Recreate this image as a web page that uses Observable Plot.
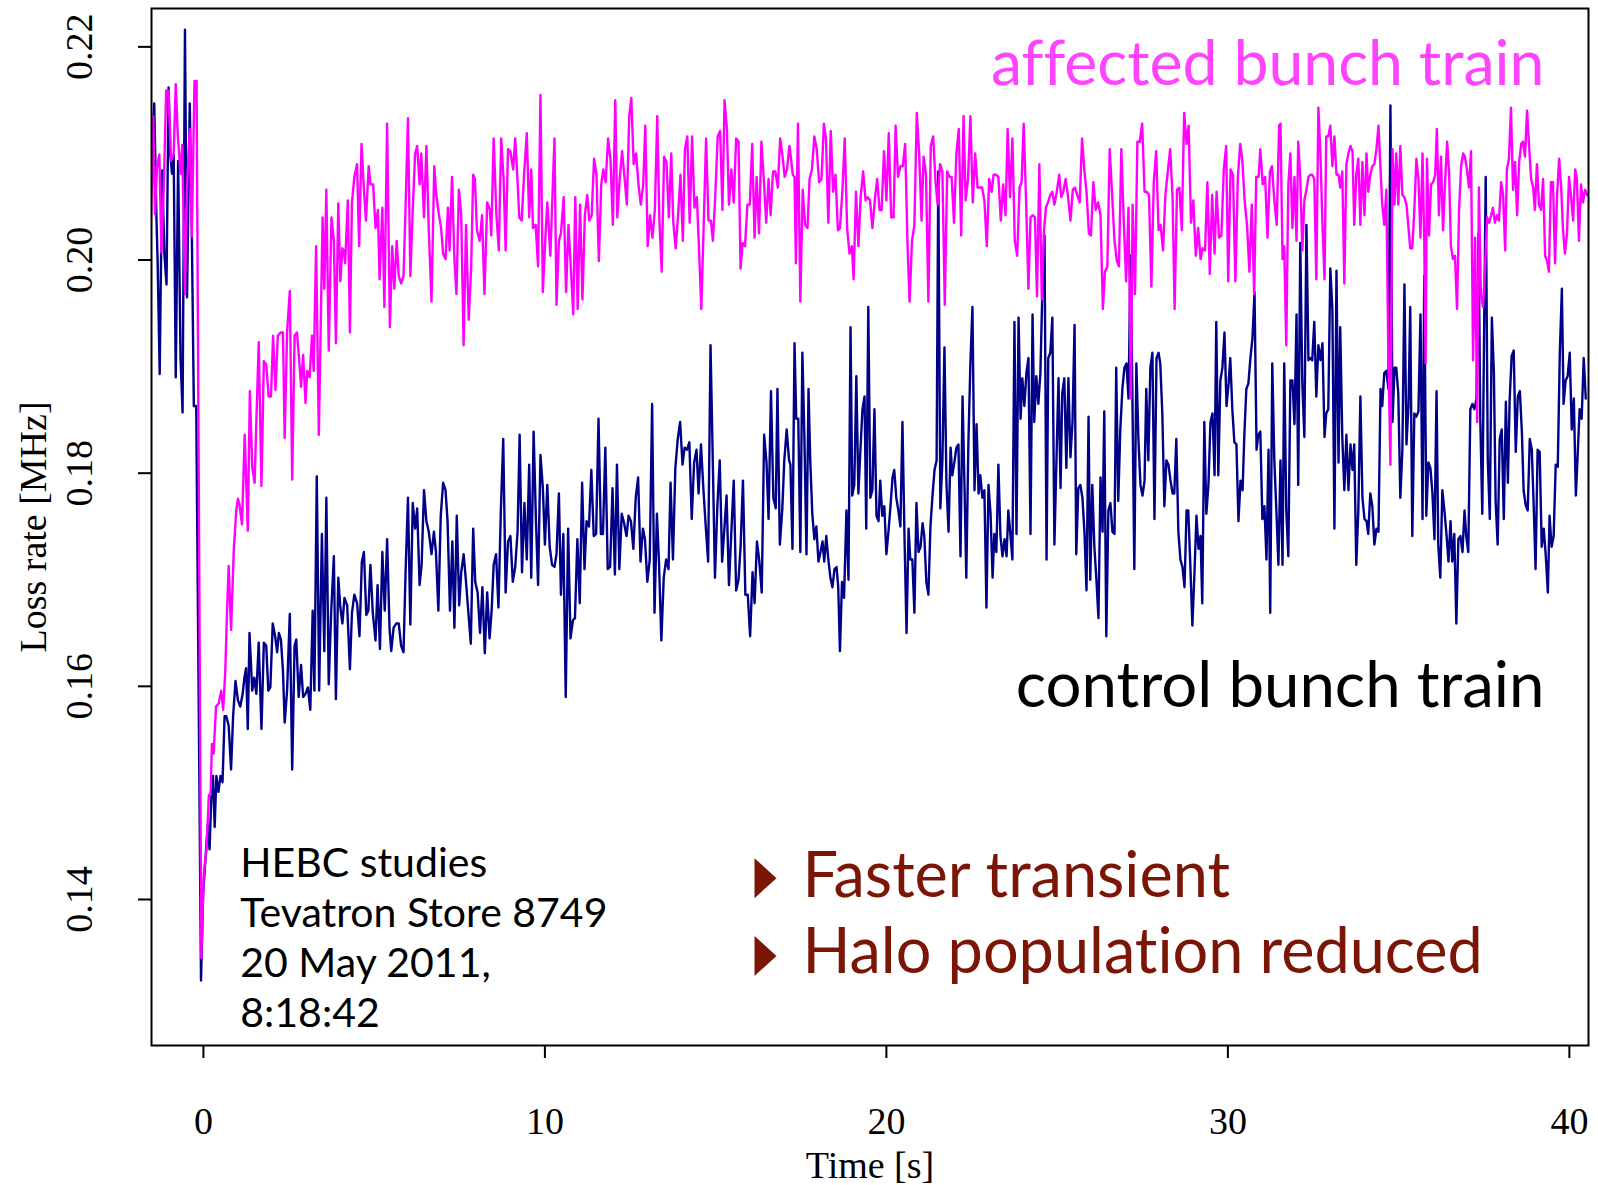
<!DOCTYPE html>
<html>
<head>
<meta charset="utf-8">
<script src="https://cdn.jsdelivr.net/npm/d3@7"></script>
<script src="https://cdn.jsdelivr.net/npm/@observablehq/plot@0.6"></script>
<style>
  html, body { margin: 0; padding: 0; background: white; overflow: hidden; }
  svg text { font-variant-ligatures: none; font-feature-settings: "liga" 0; }
</style>
</head>
<body>
<div id="chart"></div>
<script>
// Tick values
const xTicks = [0, 10, 20, 30, 40];
const yTicks = [0.14, 0.16, 0.18, 0.20, 0.22];

// Annotation texts
const seriesLabels = ["affected bunch train", "control bunch train"];
const infoText = "HEBC studies\nTevatron Store 8749\n20 May 2011,\n8:18:42";
const bulletTexts = ["Faster transient", "Halo population reduced"];

// [time (s), loss rate (MHz)] — affected bunch train
const affected = [
[-1.55,.2013],[-1.47,.2135],[-1.42,.2043],[-1.36,.2087],[-1.29,.2099],[-1.23,.2007],[-1.16,.2069],[-1.09,.2159],[-1.02,.2159],[-0.95,.2093],[-0.87,.2099],[-0.81,.2165],[-0.75,.2117],[-0.67,.2081],[-0.62,.2108],[-0.54,.1968],[-0.48,.2069],[-0.40,.2123],[-0.34,.2022],[-0.26,.2168],[-0.20,.2168],[-0.06,.1345],[0.01,.1423],[0.09,.1447],[0.16,.1498],[0.21,.1498],[0.25,.1546],[0.30,.1537],[0.37,.1581],[0.45,.1584],[0.52,.1596],[0.58,.1578],[0.64,.1614],[0.69,.1668],[0.74,.1713],[0.81,.1653],[0.89,.1728],[0.96,.1764],[1.01,.1776],[1.06,.1770],[1.13,.1752],[1.21,.1836],[1.30,.1746],[1.36,.1877],[1.43,.1806],[1.50,.1791],[1.55,.1848],[1.62,.1923],[1.70,.1788],[1.77,.1905],[1.84,.1902],[1.91,.1872],[1.98,.1872],[2.04,.1929],[2.11,.1878],[2.18,.1929],[2.26,.1932],[2.33,.1932],[2.38,.1833],[2.45,.1932],[2.53,.1971],[2.60,.1794],[2.67,.1929],[2.74,.1932],[2.80,.1908],[2.86,.1881],[2.92,.1911],[2.99,.1866],[3.04,.1896],[3.11,.1890],[3.18,.1929],[3.23,.1896],[3.30,.2013],[3.38,.1836],
[3.49,.2040],[3.54,.1973],[3.60,.2066],[3.67,.1915],[3.75,.2040],[3.82,.2018],[3.88,.1922],[3.95,.2053],[4.01,.1980],[4.07,.2011],[4.11,.2009],[4.15,.1997],[4.23,.2056],[4.29,.1932],[4.35,.2054],[4.42,.2078],[4.50,.2090],[4.56,.2013],[4.63,.2109],[4.70,.2066],[4.76,.2037],[4.84,.2088],[4.89,.2071],[4.97,.2071],[5.04,.2030],[5.11,.2047],[5.16,.1982],[5.24,.2049],[5.30,.1956],[5.38,.2128],[5.46,.1937],[5.53,.2013],[5.59,.1973],[5.66,.2018],[5.72,.1985],[5.79,.1978],[5.86,.1985],[5.93,.2061],[5.99,.2133],[6.06,.1985],[6.13,.2047],[6.20,.2100],[6.26,.2107],[6.33,.2071],[6.38,.2100],[6.46,.2040],[6.53,.2107],[6.60,.2028],[6.68,.1961],[6.76,.2088],[6.82,.2061],[6.89,.2044],[6.96,.2030],[7.02,.2006],[7.09,.2001],[7.16,.2049],[7.21,.2009],[7.28,.2078],[7.35,.2001],[7.41,.1968],[7.48,.2066],[7.55,.2042],[7.62,.1920],[7.69,.2033],[7.77,.1944],[7.84,.1992],[7.90,.2080],[7.95,.2076],[8.01,.2028],[8.09,.2018],[8.16,.2042],[8.23,.1968],[8.31,.2054],[8.39,.2047],[8.43,.2023],[8.50,.2114],[8.58,.2042],[8.65,.2009],[8.72,.2114],[8.79,.2076],[8.85,.2009],[8.92,.2104],[8.99,.2102],[9.07,.2085],[9.13,.2114],[9.19,.2080],[9.25,.2040],[9.32,.2037],[9.39,.2080],[9.47,.2119],[9.54,.2040],[9.60,.2085],[9.65,.2030],[9.73,.2033],[9.80,.1994],[9.87,.2155],[9.94,.1970],[10.01,.2018],[10.07,.2054],
[10.16,.2004],[10.28,.2114],[10.34,.1958],[10.41,.2018],[10.47,.2025],[10.55,.2059],[10.62,.1970],[10.69,.2033],[10.76,.1992],[10.83,.1949],[10.89,.2059],[10.96,.1954],[11.03,.2052],[11.10,.1963],[11.17,.2042],[11.24,.2061],[11.30,.2037],[11.37,.2042],[11.44,.2095],[11.51,.2080],[11.58,.1999],[11.65,.2071],[11.71,.2085],[11.78,.2073],[11.85,.2114],[11.92,.2095],[11.99,.2033],[12.06,.2150],[12.12,.2040],[12.19,.2076],[12.26,.2102],[12.33,.2078],[12.40,.2052],[12.47,.2135],[12.53,.2152],[12.60,.2090],[12.67,.2100],[12.74,.2071],[12.81,.2052],[12.88,.2071],[12.94,.2126],[13.01,.2013],[13.08,.2042],[13.15,.2021],[13.22,.2047],[13.29,.2135],[13.35,.2040],[13.42,.1989],[13.49,.2097],[13.56,.2092],[13.63,.2040],[13.70,.2100],[13.76,.2035],[13.83,.2011],[13.90,.2042],[13.97,.2080],[14.04,.2018],[14.10,.2104],[14.17,.2116],[14.24,.2035],[14.31,.2116],[14.38,.2049],[14.45,.2059],[14.51,.2013],[14.58,.1954],[14.65,.2033],[14.72,.2114],[14.79,.2037],[14.86,.2037],[14.92,.2018],[14.99,.2061],[15.06,.2116],[15.13,.2121],[15.20,.2047],[15.26,.2150],[15.33,.2123],[15.39,.2052],[15.46,.2085],[15.53,.2054],[15.60,.2114],[15.67,.2111],[15.73,.1992],[15.79,.2016],[15.86,.2013],[15.93,.2052],[16.00,.2052],[16.07,.2109],[16.14,.2021],[16.20,.2078],[16.27,.2025],[16.34,.2111],[16.41,.2076],[16.48,.2035],[16.55,.2076],[16.61,.2042],[16.68,.2083],[16.75,.2083],[16.82,.2068],[16.89,.2114],[16.96,.2097],[17.02,.2078],[17.09,.2085],[17.16,.2107],
[17.19,.2100],[17.26,.2080],[17.31,.2078],[17.35,.1997],[17.41,.2128],[17.48,.1961],[17.55,.2066],[17.62,.2033],[17.69,.2030],[17.75,.2076],[17.82,.2085],[17.89,.2116],[17.96,.2104],[18.03,.2073],[18.10,.2076],[18.17,.2128],[18.23,.2114],[18.30,.2035],[18.37,.2121],[18.44,.2064],[18.51,.2080],[18.58,.2028],[18.64,.2030],[18.71,.2064],[18.78,.2114],[18.85,.2030],[18.92,.2006],[18.99,.2013],[19.04,.1982],[19.11,.2064],[19.18,.2013],[19.25,.2061],[19.32,.2083],[19.39,.2056],[19.45,.2059],[19.52,.2056],[19.59,.2030],[19.66,.2056],[19.73,.2076],[19.80,.2047],[19.86,.2047],[19.93,.2102],[20.00,.2056],[20.07,.2119],[20.14,.2040],[20.21,.2040],[20.27,.2126],[20.34,.2078],[20.41,.2088],[20.48,.2088],[20.55,.2109],[20.62,.2013],[20.68,.1961],[20.75,.2018],[20.82,.2033],[20.89,.2138],[20.96,.2100],[21.03,.2037],[21.09,.2097],[21.16,.2080],[21.23,.1961],[21.30,.2107],[21.37,.2116],[21.44,.2073],[21.50,.2052],[21.57,.2090],[21.64,.2083],[21.71,.1958],[21.78,.2083],[21.85,.2078],[21.91,.2078],[21.98,.2035],[22.05,.2100],[22.12,.2123],[22.19,.2023],[22.26,.2135],[22.32,.2056],[22.39,.2076],[22.46,.2135],[22.53,.2054],[22.60,.2100],[22.67,.2068],[22.73,.2068],[22.80,.2068],[22.87,.2056],[22.94,.2013],[23.01,.2076],[23.08,.2064],[23.14,.2080],[23.21,.2080],[23.28,.2078],[23.35,.2037],[23.42,.2071],[23.49,.2042],[23.55,.2123],[23.62,.2059],[23.69,.2114],[23.76,.2018],[23.83,.2004],[23.90,.2068],[23.96,.2073],[24.02,.2128],[24.09,.2056],[24.16,.1973],
[24.22,.2040],[24.29,.2042],[24.35,.2040],[24.41,.1966],[24.48,.2090],[24.55,.1963],[24.61,.2025],[24.67,.2049],[24.73,.2054],[24.80,.2061],[24.86,.2064],[24.92,.2052],[24.99,.2064],[25.06,.2080],[25.12,.2059],[25.18,.2064],[25.25,.2076],[25.32,.2059],[25.39,.2037],[25.46,.2066],[25.52,.2068],[25.59,.2061],[25.66,.2054],[25.73,.2114],[25.80,.2083],[25.86,.2064],[25.93,.2025],[25.99,.2023],[26.06,.2073],[26.13,.2047],[26.20,.2054],[26.27,.2042],[26.34,.1954],[26.40,.1989],[26.47,.1994],[26.54,.2104],[26.61,.2061],[26.68,.2018],[26.75,.1999],[26.81,.1994],[26.88,.2104],[26.95,.2037],[27.02,.1980],[27.09,.2049],[27.16,.1870],[27.21,.2052],[27.28,.1968],[27.35,.2111],[27.42,.2111],[27.49,.2128],[27.56,.2064],[27.62,.2064],[27.69,.2061],[27.76,.1975],[27.83,.2073],[27.90,.2102],[27.97,.2028],[28.03,.2033],[28.10,.2009],[28.17,.2061],[28.24,.2083],[28.31,.2104],[28.38,.2059],[28.44,.1954],[28.51,.2066],[28.58,.2068],[28.65,.2028],[28.72,.2138],[28.79,.2109],[28.85,.2126],[28.92,.2035],[28.99,.2056],[29.06,.2004],[29.13,.2030],[29.20,.2001],[29.26,.2011],[29.33,.2009],[29.40,.2073],[29.47,.1987],[29.54,.2061],[29.61,.2006],[29.67,.2064],[29.74,.2021],[29.81,.2023],[29.88,.2085],[29.95,.2107],[30.01,.1980],[30.08,.2085],[30.15,.2080],[30.22,.1980],[30.29,.2076],[30.36,.2109],[30.42,.2095],[30.49,.2056],[30.56,.2033],[30.63,.1989],[30.70,.2052],[30.77,.1968],[30.83,.2078],[30.90,.2078],[30.95,.2104],[31.02,.2071],[31.09,.2078],[31.16,.2021],[31.23,.2083],[31.29,.2088],[31.36,.2056],[31.43,.2033],[31.50,.2126],
[31.54,.2128],[31.60,.2001],[31.65,.2013],[31.71,.1920],[31.77,.2071],[31.83,.2100],[31.89,.2030],[31.95,.2078],[32.01,.2018],[32.06,.2111],[32.12,.2078],[32.18,.2009],[32.24,.2056],[32.30,.2066],[32.36,.2078],[32.42,.2080],[32.47,.2080],[32.53,.2076],[32.59,.1982],[32.65,.2143],[32.71,.2100],[32.77,.2033],[32.83,.1982],[32.88,.2116],[32.94,.2116],[33.00,.2126],[33.06,.2088],[33.12,.2116],[33.18,.2080],[33.24,.2080],[33.29,.2068],[33.35,.2083],[33.41,.1978],[33.47,.2090],[33.53,.2100],[33.59,.2107],[33.65,.2102],[33.70,.2033],[33.76,.2080],[33.82,.2095],[33.88,.2033],[33.94,.2092],[34.00,.2042],[34.06,.2100],[34.11,.2064],[34.17,.2080],[34.23,.2088],[34.29,.2090],[34.35,.2104],[34.41,.2126],[34.47,.2085],[34.52,.2052],[34.58,.2033],[34.64,.2066],[34.70,.1908],[34.76,.1808],[34.82,.2104],[34.88,.2052],[34.93,.2100],[34.99,.2052],[35.05,.2107],[35.11,.2061],[35.17,.2059],[35.23,.2052],[35.29,.2030],[35.34,.2011],[35.40,.2011],[35.46,.2047],[35.52,.2095],[35.58,.2076],[35.64,.2021],[35.70,.2100],[35.75,.2018],[35.79,.1903],[35.83,.2095],[35.89,.2023],[35.95,.2071],[36.01,.2073],[36.07,.2080],[36.12,.2123],[36.18,.2042],[36.24,.2097],[36.30,.2028],[36.36,.2073],[36.42,.2111],[36.48,.2080],[36.53,.2013],[36.59,.2001],[36.65,.2004],[36.71,.1954],[36.77,.2047],[36.83,.2088],[36.89,.2100],[36.94,.2097],[37.00,.2085],[37.06,.2068],[37.12,.2102],[37.18,.1906],[37.24,.2021],[37.30,.1848],[37.35,.2068],[37.41,.1966],[37.47,.1956],[37.53,.1992],[37.59,.2040],[37.65,.2035],[37.71,.2042],[37.76,.2049],[37.82,.2035],[37.88,.2042],[37.94,.2037],[38.00,.2073],[38.06,.2061],[38.12,.2009],[38.17,.2085],[38.23,.2095],[38.29,.2143],[38.35,.2066],[38.41,.2092],[38.47,.2042],[38.53,.2092],[38.59,.2109],[38.64,.2111],[38.70,.2097],[38.76,.2140],[38.82,.2107],[38.88,.2076],[38.94,.2068],[38.99,.2047],[39.05,.2090],[39.11,.2052],[39.17,.2047],[39.23,.2076],[39.29,.2004],[39.35,.1999],[39.40,.1989],[39.46,.2073],[39.52,.2073],[39.58,.1997],[39.64,.2061],[39.70,.2095],[39.76,.2068],[39.81,.2030],[39.87,.2006],[39.93,.2025],[39.99,.2078],[40.05,.2059],[40.11,.2037],[40.17,.2085],[40.22,.2076],[40.28,.2018],[40.34,.2071],[40.40,.2054],[40.46,.2066],[40.52,.2061]
];

// [time (s), loss rate (MHz)] — control bunch train
const control = [
[-1.55,.2070],[-1.44,.2147],[-1.38,.2046],[-1.34,.1998],[-1.28,.1893],[-1.21,.2084],[-1.14,.2004],[-1.08,.1977],[-1.02,.2162],[-0.97,.2099],[-0.92,.2081],[-0.87,.2099],[-0.81,.1890],[-0.74,.2093],[-0.67,.1908],[-0.61,.1857],[-0.54,.2216],[-0.48,.1965],[-0.40,.2147],[-0.34,.2028],[-0.28,.1863],[-0.21,.1863],[-0.07,.1324],[-0.01,.1405],[0.06,.1438],[0.13,.1471],[0.18,.1447],[0.23,.1495],[0.28,.1516],[0.33,.1468],[0.38,.1516],[0.44,.1501],[0.50,.1516],[0.56,.1510],[0.62,.1572],[0.67,.1572],[0.74,.1563],[0.81,.1522],[0.87,.1572],[0.94,.1605],[1.01,.1587],[1.08,.1581],[1.15,.1593],[1.20,.1608],[1.25,.1617],[1.30,.1560],[1.35,.1650],[1.43,.1596],[1.49,.1608],[1.55,.1593],[1.62,.1641],[1.70,.1560],[1.77,.1641],[1.84,.1638],[1.90,.1596],[1.96,.1599],[2.03,.1659],[2.10,.1647],[2.16,.1632],[2.21,.1650],[2.27,.1644],[2.33,.1614],[2.38,.1566],[2.45,.1596],[2.53,.1668],[2.60,.1522],[2.67,.1638],[2.72,.1644],[2.79,.1590],[2.86,.1620],[2.92,.1590],[2.99,.1593],[3.06,.1599],[3.13,.1578],[3.20,.1671],[3.25,.1596],[3.32,.1797],[3.39,.1596],
[3.47,.1743],[3.54,.1633],[3.60,.1777],[3.67,.1602],[3.74,.1669],[3.82,.1722],[3.88,.1588],[3.95,.1702],[4.01,.1674],[4.07,.1659],[4.13,.1683],[4.21,.1676],[4.29,.1616],[4.35,.1669],[4.42,.1686],[4.50,.1678],[4.57,.1647],[4.64,.1717],[4.70,.1726],[4.77,.1667],[4.83,.1671],[4.89,.1714],[4.96,.1669],[5.04,.1643],[5.10,.1695],[5.17,.1635],[5.24,.1726],[5.31,.1671],[5.38,.1738],[5.45,.1655],[5.50,.1633],[5.57,.1655],[5.65,.1659],[5.72,.1659],[5.79,.1638],[5.86,.1632],[5.92,.1707],[5.99,.1777],[6.06,.1658],[6.13,.1772],[6.20,.1748],[6.26,.1767],[6.33,.1695],[6.39,.1714],[6.46,.1784],[6.53,.1755],[6.60,.1745],[6.68,.1724],[6.75,.1745],[6.81,.1726],[6.88,.1671],[6.95,.1760],[7.02,.1791],[7.09,.1784],[7.15,.1755],[7.22,.1671],[7.29,.1736],[7.35,.1655],[7.42,.1760],[7.49,.1676],[7.55,.1707],[7.62,.1724],[7.69,.1698],[7.76,.1669],[7.83,.1640],[7.90,.1748],[7.96,.1698],[8.03,.1688],[8.10,.1650],[8.17,.1693],[8.24,.1631],[8.31,.1688],[8.38,.1645],[8.44,.1671],[8.50,.1714],[8.57,.1724],[8.64,.1674],[8.71,.1765],[8.78,.1832],[8.85,.1688],[8.92,.1736],[8.99,.1741],[9.06,.1698],[9.13,.1712],[9.20,.1745],[9.26,.1836],[9.33,.1707],[9.40,.1772],[9.47,.1719],[9.54,.1808],[9.60,.1702],[9.67,.1839],[9.74,.1753],[9.80,.1695],[9.87,.1817],[9.94,.1786],[10.00,.1733],[10.07,.1789],[10.14,.1731],
[10.21,.1714],[10.28,.1712],[10.34,.1724],[10.41,.1781],[10.47,.1686],[10.54,.1743],[10.61,.1590],[10.68,.1748],[10.75,.1645],[10.82,.1662],[10.88,.1664],[10.95,.1738],[11.02,.1678],[11.09,.1791],[11.16,.1710],[11.22,.1755],[11.29,.1750],[11.36,.1803],[11.43,.1741],[11.50,.1743],[11.57,.1851],[11.64,.1743],[11.70,.1743],[11.77,.1824],[11.84,.1710],[11.91,.1712],[11.98,.1786],[12.05,.1705],[12.11,.1808],[12.18,.1710],[12.25,.1762],[12.32,.1753],[12.39,.1741],[12.45,.1760],[12.52,.1755],[12.59,.1729],[12.66,.1777],[12.73,.1796],[12.80,.1717],[12.87,.1748],[12.93,.1738],[13.00,.1698],[13.07,.1719],[13.14,.1865],[13.21,.1669],[13.28,.1762],[13.34,.1717],[13.41,.1643],[13.48,.1702],[13.55,.1719],[13.62,.1710],[13.68,.1791],[13.75,.1719],[13.82,.1805],[13.89,.1832],[13.96,.1848],[14.03,.1808],[14.09,.1824],[14.16,.1822],[14.23,.1829],[14.30,.1757],[14.37,.1810],[14.44,.1822],[14.50,.1781],[14.57,.1827],[14.64,.1786],[14.71,.1750],[14.78,.1717],[14.85,.1920],[14.91,.1822],[14.98,.1702],[15.05,.1769],[15.12,.1812],[15.19,.1717],[15.26,.1750],[15.32,.1779],[15.39,.1695],[15.46,.1745],[15.53,.1793],[15.60,.1690],[15.67,.1700],[15.73,.1731],[15.80,.1793],[15.87,.1686],[15.94,.1686],[16.01,.1647],[16.08,.1707],[16.14,.1678],[16.21,.1736],[16.28,.1717],[16.35,.1688],[16.42,.1836],[16.49,.1810],[16.55,.1757],[16.62,.1877],[16.69,.1777],[16.76,.1767],[16.81,.1879],[16.88,.1733],[16.95,.1765],[17.01,.1812],[17.08,.1841],[17.15,.1812],
[17.19,.1808],[17.25,.1729],[17.31,.1922],[17.36,.1851],[17.42,.1851],[17.48,.1726],[17.54,.1913],[17.60,.1832],[17.66,.1724],[17.72,.1879],[17.77,.1812],[17.83,.1762],[17.89,.1738],[17.95,.1750],[18.01,.1717],[18.07,.1726],[18.13,.1736],[18.18,.1717],[18.24,.1741],[18.30,.1719],[18.36,.1702],[18.42,.1693],[18.48,.1710],[18.54,.1712],[18.59,.1693],[18.64,.1633],[18.70,.1698],[18.76,.1683],[18.83,.1765],[18.89,.1700],[18.95,.1937],[19.00,.1779],[19.06,.1789],[19.12,.1891],[19.18,.1781],[19.24,.1822],[19.30,.1860],[19.36,.1872],[19.41,.1748],[19.47,.1956],[19.53,.1777],[19.59,.1784],[19.65,.1860],[19.71,.1760],[19.77,.1755],[19.82,.1793],[19.88,.1760],[19.94,.1769],[20.00,.1724],[20.06,.1745],[20.12,.1769],[20.18,.1796],[20.23,.1803],[20.29,.1777],[20.35,.1765],[20.41,.1750],[20.47,.1848],[20.53,.1741],[20.59,.1650],[20.65,.1748],[20.70,.1719],[20.76,.1719],[20.82,.1669],[20.88,.1772],[20.94,.1726],[21.00,.1731],[21.06,.1753],[21.11,.1741],[21.17,.1698],[21.23,.1686],[21.29,.1750],[21.35,.1779],[21.41,.1803],[21.47,.1812],[21.52,.2083],[21.58,.1767],[21.64,.1812],[21.70,.1918],[21.76,.1789],[21.82,.1745],[21.88,.1824],[21.93,.1798],[21.99,.1810],[22.05,.1824],[22.11,.1827],[22.17,.1722],[22.23,.1872],[22.29,.1784],[22.34,.1702],[22.40,.1827],[22.46,.1903],[22.52,.1956],[22.58,.1784],[22.64,.1846],[22.70,.1781],[22.75,.1798],[22.81,.1777],[22.87,.1784],[22.93,.1674],[22.99,.1789],[23.05,.1762],[23.11,.1702],[23.16,.1743],[23.22,.1726],[23.28,.1808],[23.34,.1741],[23.40,.1722],[23.46,.1738],[23.52,.1722],[23.57,.1765],[23.63,.1743],[23.69,.1719],[23.75,.1942],[23.81,.1743],[23.87,.1946],[23.93,.1851],[23.98,.1889],[24.04,.1863],[24.10,.1894],[24.16,.1908],
[24.22,.1743],[24.28,.1949],[24.33,.1848],[24.39,.1891],[24.45,.1865],[24.51,.1894],[24.57,.1975],[24.63,.2023],[24.69,.1719],[24.74,.1908],[24.80,.1913],[24.86,.1946],[24.92,.1733],[24.98,.1812],[25.04,.1889],[25.10,.1786],[25.15,.1875],[25.21,.1889],[25.27,.1805],[25.33,.1889],[25.39,.1815],[25.45,.1848],[25.51,.1939],[25.56,.1724],[25.62,.1786],[25.68,.1789],[25.74,.1777],[25.80,.1745],[25.86,.1690],[25.92,.1853],[25.97,.1700],[26.03,.1789],[26.09,.1731],[26.15,.1700],[26.21,.1664],[26.27,.1796],[26.33,.1745],[26.38,.1858],[26.44,.1647],[26.50,.1765],[26.56,.1772],[26.62,.1745],[26.68,.1743],[26.73,.1899],[26.79,.1774],[26.85,.1841],[26.91,.1879],[26.97,.1899],[27.03,.1903],[27.09,.1870],[27.15,.2004],[27.20,.1884],[27.26,.1710],[27.32,.1903],[27.38,.1832],[27.44,.1789],[27.50,.1779],[27.56,.1793],[27.61,.1879],[27.67,.1812],[27.73,.1899],[27.79,.1913],[27.85,.1757],[27.91,.1908],[27.97,.1913],[28.02,.1903],[28.08,.1856],[28.14,.1769],[28.20,.1812],[28.26,.1808],[28.32,.1793],[28.38,.1781],[28.43,.1781],[28.49,.1832],[28.55,.1745],[28.61,.1719],[28.67,.1712],[28.73,.1693],[28.79,.1765],[28.84,.1765],[28.90,.1714],[28.96,.1657],[29.02,.1705],[29.08,.1760],[29.14,.1729],[29.20,.1741],[29.25,.1678],[29.31,.1848],[29.37,.1762],[29.43,.1789],[29.49,.1848],[29.55,.1856],[29.61,.1798],[29.66,.1942],[29.72,.1798],[29.78,.1887],[29.84,.1899],[29.90,.1932],[29.96,.1863],[30.02,.1884],[30.07,.1908],[30.13,.1860],[30.19,.1829],[30.25,.1827],[30.31,.1755],[30.37,.1793],[30.43,.1784],[30.48,.1834],[30.54,.1879],[30.60,.1884],[30.66,.1908],[30.72,.1927],[30.78,.1970],[30.84,.1822],[30.89,.1836],[30.95,.1839],[31.01,.1757],[31.07,.1769],[31.13,.1719],[31.19,.1822],[31.24,.1669],[31.30,.1903],[31.36,.1812],[31.42,.1765],[31.48,.1714],
[31.54,.1812],[31.60,.1714],[31.65,.1903],[31.71,.1765],[31.77,.1722],[31.83,.1887],[31.89,.1887],[31.95,.1846],[32.01,.1949],[32.06,.1789],[32.12,.2016],[32.18,.1884],[32.24,.1834],[32.30,.2033],[32.36,.1906],[32.42,.1908],[32.47,.1906],[32.53,.1942],[32.59,.1872],[32.65,.1920],[32.71,.1906],[32.77,.1922],[32.83,.1834],[32.88,.1856],[32.94,.1860],[33.00,.1992],[33.06,.1954],[33.12,.1748],[33.18,.1990],[33.24,.1810],[33.29,.1937],[33.35,.1834],[33.41,.1784],[33.47,.1836],[33.53,.1784],[33.59,.1827],[33.65,.1803],[33.70,.1827],[33.76,.1714],[33.82,.1765],[33.88,.1872],[33.94,.1777],[34.00,.1757],[34.06,.1755],[34.11,.1743],[34.17,.1781],[34.23,.1769],[34.29,.1733],[34.35,.1748],[34.41,.1745],[34.47,.1879],[34.52,.1863],[34.58,.1894],[34.64,.1896],[34.70,.1879],[34.76,.2145],[34.82,.1848],[34.88,.1899],[34.93,.1899],[34.99,.1875],[35.05,.1777],[35.11,.1822],[35.17,.1977],[35.23,.1827],[35.29,.1865],[35.34,.1956],[35.40,.1741],[35.46,.1856],[35.52,.1853],[35.58,.1858],[35.64,.1949],[35.70,.1757],[35.75,.1985],[35.81,.1760],[35.87,.1810],[35.93,.1805],[35.99,.1781],[36.05,.1738],[36.11,.1877],[36.16,.1733],[36.22,.1702],[36.28,.1784],[36.34,.1765],[36.40,.1743],[36.46,.1717],[36.52,.1755],[36.57,.1717],[36.63,.1743],[36.69,.1659],[36.75,.1738],[36.81,.1741],[36.87,.1726],[36.93,.1765],[36.98,.1741],[37.04,.1726],[37.10,.1860],[37.16,.1865],[37.22,.1860],[37.28,.1870],[37.34,.2025],[37.39,.1853],[37.45,.1762],[37.51,.1956],[37.55,.2078],[37.61,.1814],[37.67,.1757],[37.73,.1946],[37.79,.1894],[37.84,.1774],[37.90,.1733],[37.96,.1832],[38.02,.1841],[38.08,.1757],[38.14,.1867],[38.20,.1791],[38.25,.1868],[38.31,.1910],[38.37,.1915],[38.43,.1820],[38.49,.1872],[38.55,.1877],[38.61,.1838],[38.66,.1784],[38.72,.1770],[38.78,.1765],[38.84,.1832],[38.90,.1822],[38.96,.1765],[39.01,.1710],[39.07,.1822],[39.13,.1820],[39.19,.1731],[39.25,.1748],[39.31,.1722],[39.37,.1688],[39.42,.1760],[39.48,.1731],[39.54,.1741],[39.60,.1808],[39.66,.1806],[39.72,.1913],[39.78,.1973],[39.83,.1865],[39.89,.1887],[39.95,.1891],[40.01,.1913],[40.07,.1841],[40.13,.1870],[40.19,.1779],[40.25,.1822],[40.30,.1860],[40.36,.1851],[40.42,.1908],[40.48,.1870]
];

// tall bullet triangle symbol
const bulletSymbol = {
  draw(context, size) {
    const r = Math.sqrt(size / Math.PI);
    context.moveTo(-0.55 * r, -r);
    context.lineTo(0.55 * r, 0);
    context.lineTo(-0.55 * r, r);
    context.closePath();
  }
};

const serif = "'Liberation Serif', 'Times New Roman', serif";
const sans = "Lato, 'Open Sans', sans-serif";
const darkRed = "#7b1505";

const chart = Plot.plot({
  width: 1598,
  height: 1185,
  marginLeft: 151,
  marginRight: 10,
  marginTop: 8,
  marginBottom: 140,
  x: {domain: [-1.52, 40.56]},
  y: {domain: [0.1263, 0.2236]},
  style: {background: "white", color: "black", fontFamily: serif},
  marks: [
    Plot.line(control, {x: d => d[0], y: d => d[1], stroke: "#000088", strokeWidth: 2.4, clip: true}),
    Plot.line(affected, {x: d => d[0], y: d => d[1], stroke: "#ff00ff", strokeWidth: 2.4, clip: true}),
    Plot.frame({stroke: "black", strokeWidth: 2}),
    Plot.axisX({ticks: xTicks, tickSize: 13, strokeWidth: 2, tickFormat: () => "", label: null}),
    Plot.axisY({ticks: yTicks, tickSize: 13, strokeWidth: 2, tickFormat: () => "", label: null}),
    Plot.text(xTicks, {x: d => d, text: d => String(d), frameAnchor: "bottom", dy: 88, lineAnchor: "bottom", fontSize: 38, fontFamily: serif, fill: "black"}),
    Plot.text(yTicks, {y: d => d, text: d => d.toFixed(2), frameAnchor: "left", dx: -72, rotate: -90, textAnchor: "middle", lineAnchor: "middle", fontSize: 38, fontFamily: serif, fill: "black"}),
    Plot.text(["Time [s]"], {frameAnchor: "bottom", dy: 132, lineAnchor: "bottom", fontSize: 38, fontFamily: serif, fill: "black"}),
    Plot.text(["Loss rate [MHz]"], {frameAnchor: "left", dx: -118, rotate: -90, textAnchor: "middle", lineAnchor: "middle", fontSize: 38, fontFamily: serif, fill: "black"}),
    Plot.text([seriesLabels[0]], {x: 39.27, y: 0.2164, textAnchor: "end", lineAnchor: "bottom", fontSize: 62.5, fontFamily: sans, fill: "#ff44ff"}),
    Plot.text([seriesLabels[1]], {x: 39.27, y: 0.1581, textAnchor: "end", lineAnchor: "bottom", fontSize: 63.5, fontFamily: sans, fill: "black"}),
    Plot.text([infoText], {x: 1.08, y: 0.1280, textAnchor: "start", lineAnchor: "bottom", lineHeight: 1.22, fontSize: 41, fontFamily: sans, fill: "black"}),
    Plot.dot([0.1420, 0.1347], {x: 16.46, y: d => d, symbol: bulletSymbol, r: 20, fill: darkRed, stroke: null}),
    Plot.text(bulletTexts, {x: 17.54, y: [0.1402, 0.1331], text: d => d, textAnchor: "start", lineAnchor: "bottom", fontSize: 63, fontFamily: sans, fill: darkRed})
  ]
});

document.getElementById("chart").appendChild(chart);
</script>
</body>
</html>
